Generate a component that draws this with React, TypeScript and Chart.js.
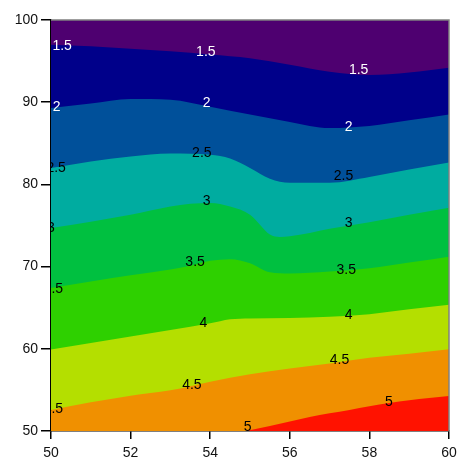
import React, { useEffect, useRef } from 'react';
import { Chart, registerables } from 'chart.js';

Chart.register(...registerables);

// ---- data ----
const X_TICKS_STEP = 2;
const Y_TICKS_STEP = 10;

const TOP_X = [50, 60];
const TOP_Y = [100, 100];

const B15_X = [50, 51, 52, 53, 54, 55, 56, 57, 58, 59, 60];
const B15_Y = [97.0, 96.8, 96.5, 96.2, 95.8, 95.35, 94.55, 93.7, 93.3, 93.6, 94.2];

const B20_X = [50, 51, 52, 53, 54, 55, 56, 57, 58, 59, 60];
const B20_Y = [89.3, 89.85, 90.4, 90.3, 89.45, 88.5, 87.6, 86.85, 87.1, 87.8, 88.5];

const B25_X = [50, 51, 52, 53, 54, 54.5, 55, 55.5, 56, 57, 58, 59, 60];
const B25_Y = [82.0, 82.8, 83.4, 83.75, 83.6, 83.15, 82.0, 80.7, 80.2, 80.2, 80.9, 81.8, 82.65];

const B30_X = [50, 51, 52, 53, 53.5, 54, 54.5, 55, 55.25, 55.5, 55.75, 56, 56.5, 57, 58, 59, 60];
const B30_Y = [74.7, 75.45, 76.3, 77.3, 77.65, 77.75, 77.3, 76.3, 75.1, 73.9, 73.6, 73.7, 74.1, 74.6, 75.4, 76.3, 77.15];

const B35_X = [50, 51, 52, 53, 53.5, 54, 54.5, 55, 55.5, 56, 57, 58, 59, 60];
const B35_Y = [67.4, 68.2, 68.95, 69.65, 70.1, 70.7, 70.9, 70.4, 69.3, 69.15, 69.4, 69.8, 70.5, 71.2];

const B40_X = [50, 51, 52, 53, 54, 54.5, 55, 56, 57, 58, 59, 60];
const B40_Y = [59.9, 60.7, 61.5, 62.3, 63.1, 63.6, 63.7, 63.75, 63.9, 64.2, 64.8, 65.35];

const B45_X = [50, 51, 52, 53, 54, 55, 56, 57, 58, 59, 60];
const B45_Y = [52.55, 53.5, 54.3, 54.95, 56.0, 56.9, 57.6, 58.2, 58.9, 59.4, 59.95];

const B50_X = [54.9, 55.5, 56, 56.5, 57, 57.5, 58, 58.5, 59, 59.5, 60];
const B50_Y = [50, 50.6, 51.15, 51.7, 52.15, 52.55, 53.0, 53.4, 53.75, 54.0, 54.25];

// band colours (band above/below each boundary)
const BAND_COLORS = ['#4e0070', '#00008a', '#00509a', '#00aca0', '#00c040', '#2ed000', '#b4df00', '#f09000', '#ff1200'];

// contour labels
const LABEL_TEXT = [
  '1.5', '2', '2.5', '3', '3.5', '4.5',
  '1.5', '2', '2.5', '3', '3.5', '4', '4.5', '5',
  '1.5', '2', '2.5', '3', '3.5', '4', '4.5', '5',
];
const LABEL_X = [
  50.28, 50.14, 50.13, 50.0, 50.06, 50.06,
  53.89, 53.91, 53.79, 53.91, 53.62, 53.83, 53.54, 54.94,
  57.73, 57.48, 57.35, 57.48, 57.42, 57.48, 57.25, 58.49,
];
const LABEL_Y = [
  96.77, 89.34, 82.03, 74.69, 67.2, 52.68,
  96.13, 89.91, 83.82, 77.93, 70.55, 63.12, 55.6, 50.52,
  93.85, 86.94, 80.97, 75.3, 69.52, 64.13, 58.65, 53.57,
];
const LABEL_WHITE = ['1.5', '2'];

const toPts = (xs: number[], ys: number[]) => xs.map((x, i) => ({ x, y: ys[i] }));

const labelPlugin = {
  id: 'contourLabels',
  afterDatasetsDraw(chart: any) {
    const { ctx, chartArea, scales } = chart;
    ctx.save();
    ctx.beginPath();
    ctx.rect(chartArea.left, chartArea.top, chartArea.right - chartArea.left, chartArea.bottom - chartArea.top);
    ctx.clip();
    ctx.font = '14px "Liberation Sans", Arial, sans-serif';
    ctx.textAlign = 'center';
    ctx.textBaseline = 'middle';
    LABEL_TEXT.forEach((t, i) => {
      ctx.fillStyle = LABEL_WHITE.includes(t) ? '#ffffff' : '#000000';
      ctx.fillText(t, scales.x.getPixelForValue(LABEL_X[i]), scales.y.getPixelForValue(LABEL_Y[i]));
    });
    ctx.restore();
    // frame (top / right)
    ctx.save();
    ctx.strokeStyle = '#808080';
    ctx.lineWidth = 1.5;
    ctx.beginPath();
    ctx.moveTo(chartArea.left, chartArea.top);
    ctx.lineTo(chartArea.right, chartArea.top);
    ctx.lineTo(chartArea.right, chartArea.bottom);
    ctx.stroke();
    ctx.restore();
  },
};

export default function App() {
  const ref = useRef<HTMLCanvasElement | null>(null);
  useEffect(() => {
    document.body.style.margin = '0';
    const boundaries = [
      { x: TOP_X, y: TOP_Y, c: BAND_COLORS[0] },
      { x: B15_X, y: B15_Y, c: BAND_COLORS[1] },
      { x: B20_X, y: B20_Y, c: BAND_COLORS[2] },
      { x: B25_X, y: B25_Y, c: BAND_COLORS[3] },
      { x: B30_X, y: B30_Y, c: BAND_COLORS[4] },
      { x: B35_X, y: B35_Y, c: BAND_COLORS[5] },
      { x: B40_X, y: B40_Y, c: BAND_COLORS[6] },
      { x: B45_X, y: B45_Y, c: BAND_COLORS[7] },
      { x: B50_X, y: B50_Y, c: BAND_COLORS[8] },
    ];
    const n = boundaries.length;
    const datasets = boundaries.map((b, i) => ({
      data: toPts(b.x, b.y),
      backgroundColor: b.c,
      borderColor: b.c,
      borderWidth: 0,
      pointRadius: 0,
      fill: 'start',
      cubicInterpolationMode: 'monotone' as const,
      order: n - i,
    }));
    const chart = new Chart(ref.current!, {
      type: 'line',
      data: { datasets },
      options: {
        animation: false,
        responsive: false,
        devicePixelRatio: 1,
        layout: { padding: { top: 20, right: 0, left: 0, bottom: 0 } },
        plugins: { legend: { display: false }, tooltip: { enabled: false } },
        scales: {
          x: {
            type: 'linear',
            min: 50,
            max: 60,
            afterFit: (s: any) => { s.height = 35; s.paddingRight = 8; s.paddingLeft = 0; },
            ticks: { stepSize: X_TICKS_STEP, color: '#111', padding: 6, font: { family: '"Liberation Sans", Arial, sans-serif', size: 14 } },
            grid: { drawOnChartArea: false, tickLength: 8, color: '#000', lineWidth: 1.5 },
            border: { display: true, color: '#000', width: 1.5 },
          },
          y: {
            type: 'linear',
            min: 50,
            max: 100,
            afterFit: (s: any) => { s.width = 51; s.paddingTop = 0; s.paddingBottom = 0; },
            ticks: { stepSize: Y_TICKS_STEP, color: '#111', padding: 3, font: { family: '"Liberation Sans", Arial, sans-serif', size: 14 } },
            grid: { drawOnChartArea: false, tickLength: 10, color: '#000', lineWidth: 1.5 },
            border: { display: true, color: '#000', width: 1.5 },
          },
        },
      },
      plugins: [labelPlugin],
    });
    return () => chart.destroy();
  }, []);
  return (
    <canvas ref={ref} width={457} height={466} style={{ position: 'absolute', left: 0, top: 0, display: 'block' }} />
  );
}
